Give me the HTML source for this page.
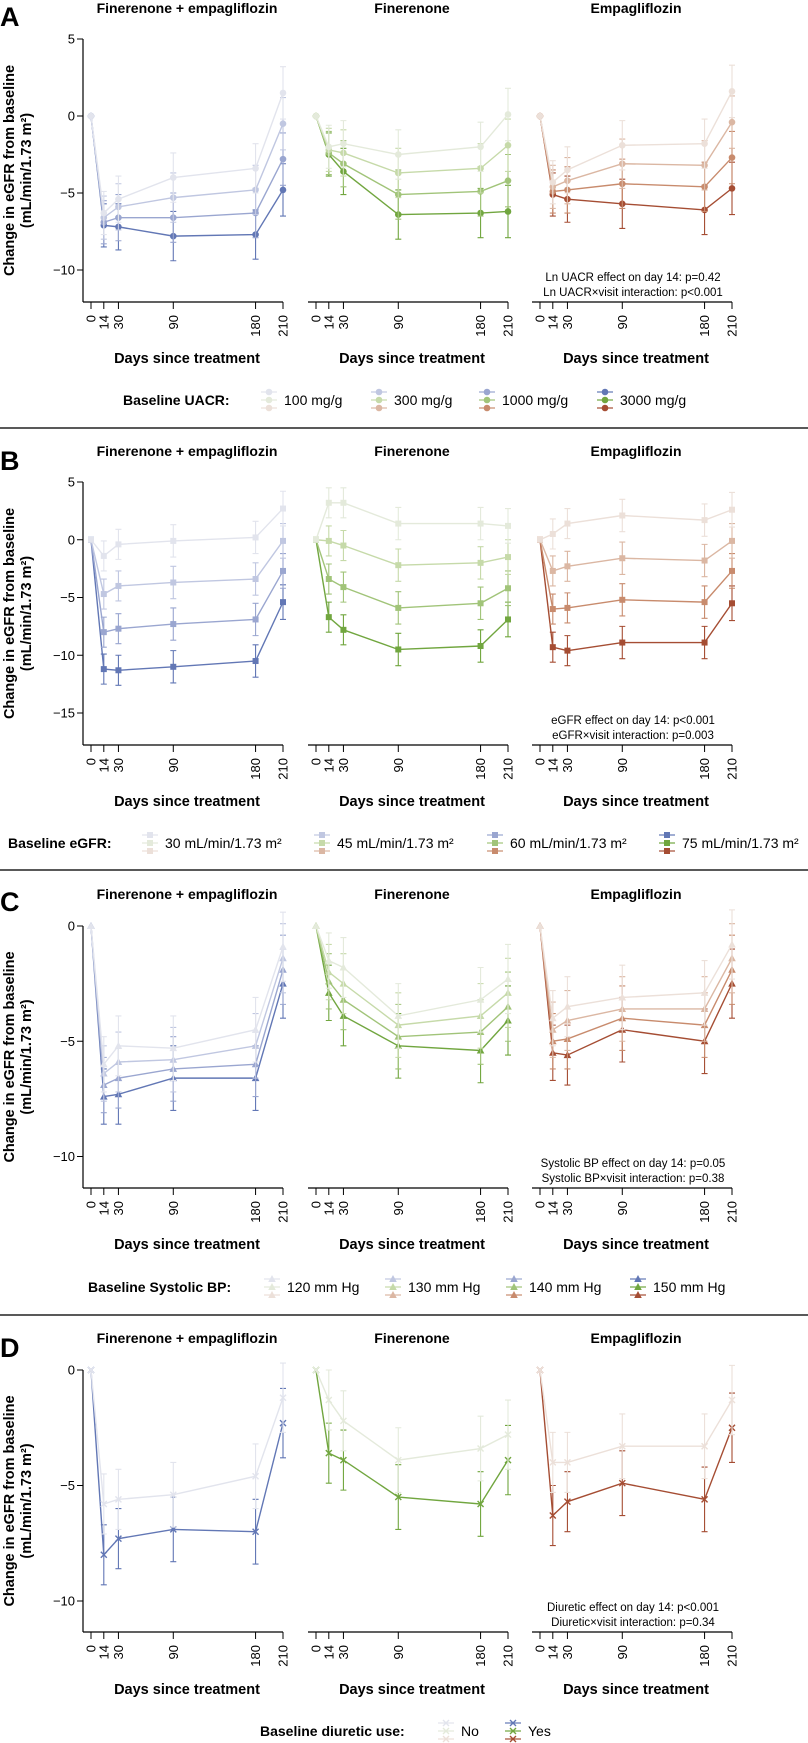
<!DOCTYPE html>
<html><head><meta charset="utf-8">
<style>
html,body{margin:0;padding:0;background:#fff;}
svg{display:block;font-family:"Liberation Sans",Arial,sans-serif;}
</style></head>
<body>
<svg id="fig" width="808" height="1743" viewBox="0 0 808 1743" xmlns="http://www.w3.org/2000/svg"></svg>
<script>
// ---- data ----
const days = [0, 14, 30, 90, 180, 210];
const dayTickLabels = ["0", "14", "30", "90", "180", "210"];
const subplotTitles = ["Finerenone + empagliflozin", "Finerenone", "Empagliflozin"];

// Panel A: baseline UACR
const uacrLabels = ["100 mg/g", "300 mg/g", "1000 mg/g", "3000 mg/g"];
const aCombo = [[0,-6.3,-5.4,-4.0,-3.4,1.5],[0,-6.6,-5.9,-5.3,-4.8,-0.5],[0,-6.9,-6.6,-6.6,-6.3,-2.8],[0,-7.1,-7.2,-7.8,-7.7,-4.8]];
const aFine = [[0,-2.0,-1.8,-2.5,-2.0,0.1],[0,-2.2,-2.4,-3.7,-3.4,-1.9],[0,-2.4,-3.1,-5.1,-4.9,-4.2],[0,-2.5,-3.6,-6.4,-6.3,-6.2]];
const aEmpa = [[0,-4.3,-3.5,-1.9,-1.8,1.6],[0,-4.6,-4.2,-3.1,-3.2,-0.4],[0,-4.9,-4.8,-4.4,-4.6,-2.7],[0,-5.1,-5.4,-5.7,-6.1,-4.7]];
const aErr = [0, 1.4, 1.5, 1.6, 1.6, 1.7];
const aTicks = [5, 0, -5, -10];

// Panel B: baseline eGFR
const egfrLabels = ["30 mL/min/1.73 m²", "45 mL/min/1.73 m²", "60 mL/min/1.73 m²", "75 mL/min/1.73 m²"];
const bCombo = [[0,-1.4,-0.4,-0.1,0.2,2.7],[0,-4.7,-4.0,-3.7,-3.4,-0.1],[0,-8.0,-7.7,-7.3,-6.9,-2.7],[0,-11.2,-11.3,-11.0,-10.5,-5.4]];
const bFine = [[0,3.2,3.2,1.4,1.4,1.2],[0,-0.1,-0.5,-2.2,-2.0,-1.5],[0,-3.4,-4.1,-5.9,-5.5,-4.2],[0,-6.7,-7.8,-9.5,-9.2,-6.9]];
const bEmpa = [[0,0.5,1.4,2.1,1.7,2.6],[0,-2.7,-2.3,-1.6,-1.8,-0.1],[0,-6.0,-5.9,-5.2,-5.4,-2.7],[0,-9.3,-9.6,-8.9,-8.9,-5.5]];
const bErr = [0, 1.3, 1.3, 1.4, 1.4, 1.5];
const bTicks = [5, 0, -5, -10, -15];

// Panel C: baseline systolic BP
const sbpLabels = ["120 mm Hg", "130 mm Hg", "140 mm Hg", "150 mm Hg"];
const cCombo = [[0,-6.0,-5.2,-5.3,-4.5,-0.9],[0,-6.4,-5.9,-5.8,-5.2,-1.4],[0,-6.9,-6.6,-6.2,-6.0,-1.9],[0,-7.4,-7.3,-6.6,-6.6,-2.5]];
const cFine = [[0,-1.5,-1.8,-3.9,-3.2,-2.3],[0,-2.0,-2.5,-4.3,-3.9,-2.9],[0,-2.4,-3.2,-4.8,-4.6,-3.5],[0,-2.9,-3.9,-5.2,-5.4,-4.1]];
const cEmpa = [[0,-4.0,-3.5,-3.1,-2.9,-0.8],[0,-4.5,-4.1,-3.6,-3.6,-1.4],[0,-5.0,-4.9,-4.0,-4.3,-1.9],[0,-5.5,-5.6,-4.5,-5.0,-2.5]];
const cErr = [0, 1.2, 1.3, 1.4, 1.4, 1.5];
const cTicks = [0, -5, -10];

// Panel D: baseline diuretic use
const diurLabels = ["No", "Yes"];
const dCombo = [[0,-5.8,-5.6,-5.4,-4.6,-1.2],[0,-8.0,-7.3,-6.9,-7.0,-2.3]];
const dFine = [[0,-1.3,-2.2,-3.9,-3.4,-2.8],[0,-3.6,-3.9,-5.5,-5.8,-3.9]];
const dEmpa = [[0,-4.0,-4.0,-3.3,-3.3,-1.3],[0,-6.3,-5.7,-4.9,-5.6,-2.5]];
const dErr = [0, 1.3, 1.3, 1.4, 1.4, 1.5];
const dTicks = [0, -5, -10];

// ---- styling / layout ----
const palettes = [
  ['#e2e4ed','#c0c7e1','#9aa6d0','#6277b5'],
  ['#e4eadb','#c6daa9','#a1c479','#71a63f'],
  ['#ece0d9','#dbb7a3','#c88b6d','#a54d33']
];
const subs = [{ax:83,x0:91,x1:283},{ax:308,x0:316,x1:508},{ax:532,x0:540,x1:732}];
const NS = "http://www.w3.org/2000/svg";
const svg = document.getElementById('fig');

function mk(tag, attrs, parent, text){
  const e = document.createElementNS(NS, tag);
  for (const k in attrs) e.setAttribute(k, attrs[k]);
  if (text !== undefined) e.textContent = text;
  (parent || svg).appendChild(e);
  return e;
}

function marker(g, shape, cx, cy, col){
  let m;
  if (shape === 'circle') m = mk('circle',{cx:cx,cy:cy,r:3.3,fill:col},g);
  else if (shape === 'square') m = mk('rect',{x:cx-3,y:cy-3,width:6,height:6,fill:col},g);
  else if (shape === 'triangle') m = mk('polygon',{points:(cx)+','+(cy-4)+' '+(cx-3.8)+','+(cy+3)+' '+(cx+3.8)+','+(cy+3),fill:col},g);
  else m = mk('path',{d:'M'+(cx-3)+' '+(cy-3)+'L'+(cx+3)+' '+(cy+3)+'M'+(cx-3)+' '+(cy+3)+'L'+(cx+3)+' '+(cy-3),stroke:col,'stroke-width':1.4,fill:'none'},g);
  
  
  return m;
}

function panel(cfg){
  const pg = mk('g',{});
  
  
  const yS = v => cfg.yTop + (cfg.ticks[0] - v) * cfg.unit;
  const L = mk('text',{x:0,y:cfg.letterY,'font-size':27,'font-weight':'bold'},pg,cfg.letter);
  
  
  const ya = mk('g',{},pg);
  
  
  mk('line',{x1:83,x2:83,y1:yS(cfg.ticks[0]),y2:cfg.bottom,stroke:'#000','stroke-width':1.2},ya);
  cfg.ticks.forEach(t=>{
    mk('line',{x1:77,x2:83,y1:yS(t),y2:yS(t),stroke:'#000','stroke-width':1},ya);
    const tl = mk('text',{x:75,y:yS(t)+4.5,'font-size':13,'text-anchor':'end'},ya,t<0?'\u2212'+(-t):String(t));
    
    
  });
  const cy = (yS(cfg.ticks[0]) + cfg.bottom)/2;
  const yt = mk('text',{transform:'translate(14,'+cy+') rotate(-90)','font-size':14.5,'font-weight':'bold','text-anchor':'middle'},pg,'Change in eGFR from baseline');
  
  
  const yt2 = mk('text',{transform:'translate(31,'+cy+') rotate(-90)','font-size':14.5,'font-weight':'bold','text-anchor':'middle'},pg,'(mL/min/1.73 m²)');
  
  

  cfg.series.forEach((ser, si)=>{
    const s = subs[si];
    const xS = d => s.x0 + d/210*(s.x1 - s.x0);
    const cx = (s.x0 + s.x1)/2;
    const tt = mk('text',{x:cx,y:cfg.titleY,'font-size':14,'font-weight':'bold','text-anchor':'middle'},pg,subplotTitles[si]);
    
    
    const xa = mk('g',{},pg);
    
    
    mk('line',{x1:s.ax,x2:s.x1,y1:cfg.bottom,y2:cfg.bottom,stroke:'#000','stroke-width':1.2},xa);
    days.forEach((d,i)=>{
      mk('line',{x1:xS(d),x2:xS(d),y1:cfg.bottom,y2:cfg.bottom+7,stroke:'#000','stroke-width':1},xa);
      const lab = mk('text',{transform:'translate('+(xS(d)+4.5)+','+(cfg.bottom+13)+') rotate(-90)','font-size':13,'text-anchor':'end'},xa,dayTickLabels[i]);
      
      
    });
    const xt = mk('text',{x:cx,y:cfg.daysY+5,'font-size':14.5,'font-weight':'bold','text-anchor':'middle'},pg,'Days since treatment');
    
    
    const pal = palettes[si];
    // draw darkest first so the lightest sits on top (as in reference)
    for (let k = ser.length - 1; k >= 0; k--){
      const vals = ser[k];
      const col = pal[cfg.levels[k]];
      const g = mk('g',{},pg);
      
      
      vals.forEach((v,i)=>{
        if (cfg.err[i] > 0){
          const x = xS(days[i]);
          const y1 = yS(v + cfg.err[i]), y2 = yS(v - cfg.err[i]);
          mk('path',{d:'M'+x+' '+y1+'V'+y2+'M'+(x-3)+' '+y1+'H'+(x+3)+'M'+(x-3)+' '+y2+'H'+(x+3),stroke:col,'stroke-width':1.1,fill:'none'},g);
        }
      });
      mk('polyline',{points:vals.map((v,i)=>xS(days[i])+','+yS(v)).join(' '),fill:'none',stroke:col,'stroke-width':1.4},g);
      vals.forEach((v,i)=>marker(g, cfg.shape, xS(days[i]), yS(v), col));
    }
  });
  cfg.notes.forEach((n,i)=>{
    const t = mk('text',{x:633,y:cfg.bottom-21+i*15,'font-size':11.5,'text-anchor':'middle'},pg,n);
    
    
  });
  const lg = mk('g',{},pg);
  
  
  const lt = mk('text',{x:cfg.legLabelX,y:cfg.legendY+5,'font-size':14,'font-weight':'bold'},lg,cfg.legTitle);
  
  
  cfg.legLabels.forEach((lab,k)=>{
    const mx = cfg.legX[k];
    const e = mk('g',{},lg);
    
    
    [0,1,2].forEach(p=>{
      const col = palettes[p][cfg.levels[k]];
      const yy = cfg.legendY + (p-1)*8;
      mk('line',{x1:mx-8,x2:mx+8,y1:yy,y2:yy,stroke:col,'stroke-width':1.2},e);
      marker(e, cfg.shape, mx, yy, col);
    });
    mk('text',{x:mx+15,y:cfg.legendY+5,'font-size':14},e,lab);
  });
  if (cfg.sepY){
    const sl = mk('line',{x1:0,x2:808,y1:cfg.sepY,y2:cfg.sepY,stroke:'#222','stroke-width':1.5},pg);
    
    
  }
}

panel({letter:'A',letterY:26,titleY:13,yTop:39,unit:15.4,bottom:302,ticks:aTicks,
  series:[aCombo,aFine,aEmpa],levels:[0,1,2,3],err:aErr,shape:'circle',daysY:358,
  notes:['Ln UACR effect on day 14: p=0.42','Ln UACR\u00d7visit interaction: p<0.001'],
  legendY:400,legLabelX:123,legTitle:'Baseline UACR:',legLabels:uacrLabels,legX:[269,379,487,605],sepY:428});
panel({letter:'B',letterY:470,titleY:456,yTop:482,unit:11.55,bottom:745,ticks:bTicks,
  series:[bCombo,bFine,bEmpa],levels:[0,1,2,3],err:bErr,shape:'square',daysY:801,
  notes:['eGFR  effect on day 14: p<0.001','eGFR\u00d7visit interaction: p=0.003'],
  legendY:843,legLabelX:8,legTitle:'Baseline eGFR:',legLabels:egfrLabels,legX:[150,322,495,667],sepY:870});
panel({letter:'C',letterY:911,titleY:899,yTop:926,unit:23.05,bottom:1188,ticks:cTicks,
  series:[cCombo,cFine,cEmpa],levels:[0,1,2,3],err:cErr,shape:'triangle',daysY:1244,
  notes:['Systolic BP effect on day 14: p=0.05','Systolic BP\u00d7visit interaction: p=0.38'],
  legendY:1287,legLabelX:88,legTitle:'Baseline Systolic BP:',legLabels:sbpLabels,legX:[272,393,514,638],sepY:1315});
panel({letter:'D',letterY:1357,titleY:1343,yTop:1370,unit:23.1,bottom:1632,ticks:dTicks,
  series:[dCombo,dFine,dEmpa],levels:[0,3],err:dErr,shape:'cross',daysY:1689,
  notes:['Diuretic effect on day 14: p<0.001','Diuretic\u00d7visit interaction: p=0.34'],
  legendY:1731,legLabelX:260,legTitle:'Baseline diuretic use:',legLabels:diurLabels,legX:[446,513],sepY:0});
</script>
</body></html>
